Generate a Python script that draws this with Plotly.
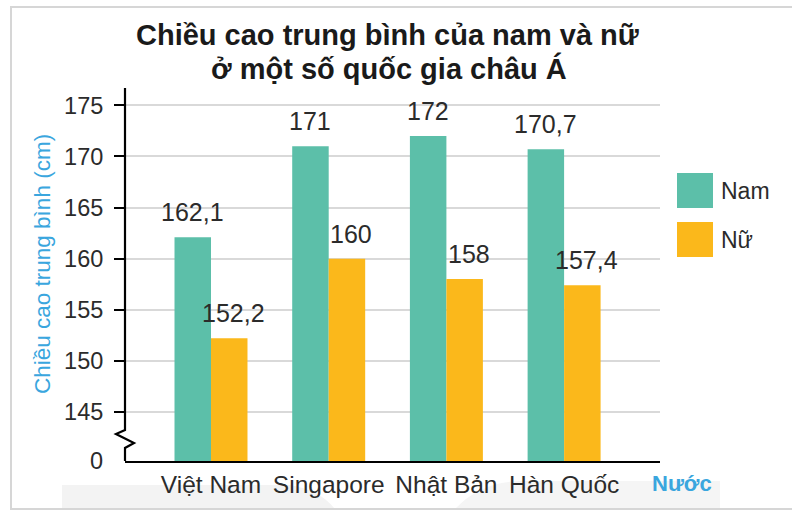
import plotly.graph_objects as go

# Data
countries = ["Việt Nam", "Singapore", "Nhật Bản", "Hàn Quốc"]
nam = [162.1, 171, 172, 170.7]
nu = [152.2, 160, 158, 157.4]
series_names = ["Nam", "Nữ"]
y_ticks = [145, 150, 155, 160, 165, 170, 175]

COLOR_NAM = "#5cbfa9"
COLOR_NU = "#fbb81b"
BLUE = "#3aa6de"
TEXT = "#2b2b2b"
FONT = "Liberation Sans, Arial, sans-serif"

W, H = 792, 511
ML, MR, MT, MB = 125, 132, 88, 50
PW, PH = W - ML - MR, H - MT - MB

Y_BASE = 140.2            # bottom of the broken axis (labelled 0)
PX_PER_UNIT = 10.22
Y_TOP = Y_BASE + PH / PX_PER_UNIT

# category axis: one unit per country
X_UNIT = 117.7
X0 = -(211 - ML) / X_UNIT
X1 = X0 + PW / X_UNIT
BAR_W = 0.31


def px(xpix):
    return (xpix - ML) / PW


def py(ypix):
    return (H - MB - ypix) / PH


def fmt(v):
    s = f"{v:g}"
    return s.replace(".", ",")


xs = list(range(len(countries)))

fig = go.Figure()
fig.add_trace(go.Bar(x=xs, y=nam, name=series_names[0], marker_color=COLOR_NAM,
                     marker_line_width=0, showlegend=False))
fig.add_trace(go.Bar(x=xs, y=nu, name=series_names[1], marker_color=COLOR_NU,
                     marker_line_width=0, showlegend=False))

annotations = []
# value labels above bars
for i, v in enumerate(nam):
    annotations.append(dict(x=i - BAR_W / 2, y=v, xref="x", yref="y", text=fmt(v),
                            showarrow=False, yanchor="bottom", yshift=9,
                            font=dict(size=25, color=TEXT, family=FONT)))
for i, v in enumerate(nu):
    annotations.append(dict(x=i + BAR_W / 2, y=v, xref="x", yref="y", text=fmt(v),
                            showarrow=False, yanchor="bottom", yshift=9, xshift=4,
                            font=dict(size=25, color=TEXT, family=FONT)))

# title
annotations.append(dict(x=px(387), y=py(35), xref="paper", yref="paper",
                        text="<b>Chiều cao trung bình của nam và nữ</b>", showarrow=False,
                        xanchor="center", yanchor="middle",
                        font=dict(size=29, color="#1a1a1a", family=FONT)))
annotations.append(dict(x=px(389), y=py(69), xref="paper", yref="paper",
                        text="<b>ở một số quốc gia châu Á</b>", showarrow=False,
                        xanchor="center", yanchor="middle",
                        font=dict(size=29, color="#1a1a1a", family=FONT)))

# axis titles
annotations.append(dict(x=px(42), y=py(264), xref="paper", yref="paper",
                        text="Chiều cao trung bình (cm)", showarrow=False, textangle=-90,
                        xanchor="center", yanchor="middle",
                        font=dict(size=22.5, color=BLUE, family=FONT)))
annotations.append(dict(x=px(650), y=py(483), xref="paper", yref="paper",
                        text="<b>Nước</b>", showarrow=False,
                        xanchor="left", yanchor="middle",
                        font=dict(size=22, color=BLUE, family=FONT)))
# zero label at the broken axis base
annotations.append(dict(x=px(105), y=Y_BASE, xref="paper", yref="y",
                        text="0", showarrow=False, xanchor="right", yanchor="middle",
                        font=dict(size=23.5, color=TEXT, family=FONT)))

# legend
legend_items = [(series_names[0], COLOR_NAM, 173), (series_names[1], COLOR_NU, 222)]
shapes = []
for name, col, top in legend_items:
    shapes.append(dict(type="rect", xref="paper", yref="paper",
                       x0=px(677), x1=px(713), y0=py(top + 35), y1=py(top),
                       fillcolor=col, line_width=0))
    annotations.append(dict(x=px(719), y=py(top + 18), xref="paper", yref="paper",
                            text=name, showarrow=False, xanchor="left", yanchor="middle",
                            font=dict(size=23, color=TEXT, family=FONT)))

# outer frame and faint background swoosh
shapes.append(dict(type="path", xref="paper", yref="paper", layer="below",
                   path=f"M {px(62)},{py(485)} L {px(290)},{py(485)} "
                        f"Q {px(320)},{py(490)} {px(335)},{py(509)} L {px(62)},{py(509)} Z",
                   fillcolor="#f3f3f3", line_width=0))
shapes.append(dict(type="path", xref="paper", yref="paper", layer="below",
                   path=f"M {px(455)},{py(509)} Q {px(480)},{py(482)} {px(520)},{py(481)} "
                        f"L {px(720)},{py(481)} L {px(720)},{py(509)} Z",
                   fillcolor="#f5f5f5", line_width=0))
shapes.append(dict(type="rect", xref="paper", yref="paper", layer="below",
                   x0=px(11), x1=px(795), y0=py(509), y1=py(7),
                   fillcolor="rgba(0,0,0,0)", line=dict(color="#d6d6d6", width=2)))

# y axis line with break symbol
shapes.append(dict(type="path", xref="paper", yref="paper",
                   path=f"M {px(125)},{py(88)} L {px(125)},{py(430)} L {px(116)},{py(434)} "
                        f"L {px(134)},{py(443)} L {px(125)},{py(448)} L {px(125)},{py(461)}",
                   line=dict(color="black", width=2.2)))

fig.update_layout(
    width=W, height=H,
    margin=dict(l=ML, r=MR, t=MT, b=MB),
    paper_bgcolor="white", plot_bgcolor="white",
    barmode="group", bargap=1 - 2 * BAR_W, bargroupgap=0,
    font=dict(family=FONT, color=TEXT),
    annotations=annotations, shapes=shapes,
    xaxis=dict(range=[X0, X1], tickvals=xs, ticktext=countries, showgrid=False,
               showline=True, linecolor="black", linewidth=2.2, ticks="",
               tickfont=dict(size=24.5, color=TEXT, family=FONT), zeroline=False,
               fixedrange=True),
    yaxis=dict(range=[Y_BASE, Y_TOP], tickvals=y_ticks, showline=False,
               ticks="outside", ticklen=10, tickwidth=2, tickcolor="black",
               ticklabelstandoff=6,
               showgrid=True, gridcolor="#d9d9d9", gridwidth=1.5, zeroline=False,
               tickfont=dict(size=23.5, color=TEXT, family=FONT), fixedrange=True),
)

fig.write_html("out.html")
